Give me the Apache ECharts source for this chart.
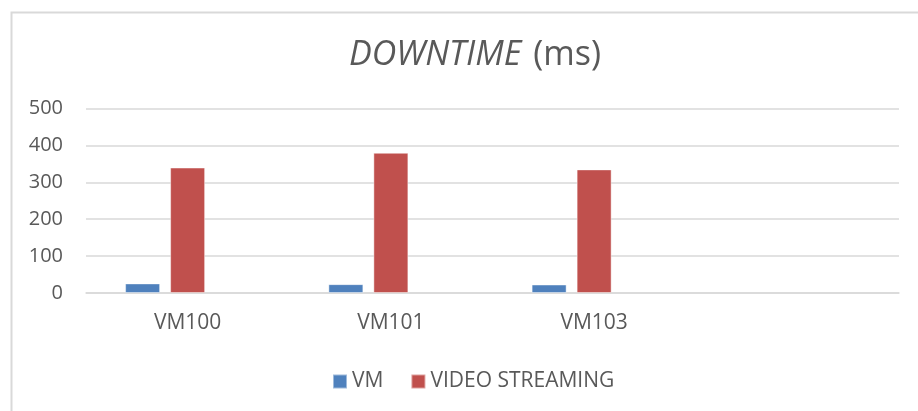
<!DOCTYPE html>
<html>
<head>
<meta charset="utf-8">
<script src="https://cdn.jsdelivr.net/npm/echarts@6/dist/echarts.min.js"></script>
<style>
html,body{margin:0;padding:0;background:#fff;}
#c{width:918px;height:411px;}
</style>
</head>
<body>
<div id="c"></div>
<script>
const categories = ['VM100', 'VM101', 'VM103', ''];
const vmValues = [26, 24, 23, null];
const videoValues = [340, 380, 335, null];
const emptySeries = [null, null, null, null];
const yTicks = [0, 100, 200, 300, 400, 500];

const chart = echarts.init(document.getElementById('c'), null, {renderer: 'canvas'});
const font = '"Open Sans", "Noto Sans", sans-serif';
const txt = '#595959';
chart.setOption({
  animation: false,
  backgroundColor: '#fff',
  graphic: [{
    type: 'rect', left: 9, top: 10,
    shape: {width: 940, height: 430},
    style: {fill: 'none', stroke: '#d9d9d9', lineWidth: 2}
  }],
  title: {
    text: '{i|DOWNTIME}{s| }{n|(ms)}',
    left: 470, textAlign: 'center', top: 33,
    textStyle: {
      fontWeight: 'normal',
      rich: {
        i: {fontFamily: font, fontSize: 34, fontStyle: 'italic', fontWeight: 'normal', color: txt},
        s: {fontFamily: font, fontSize: 34, fontWeight: 'normal', color: txt, width: 12},
        n: {fontFamily: font, fontSize: 34, fontWeight: 'normal', color: txt}
      }
    }
  },
  legend: {
    left: 327, top: 366,
    itemWidth: 14, itemHeight: 14, itemGap: 27,
    icon: 'rect',
    data: ['VM', 'VIDEO STREAMING'],
    textStyle: {fontFamily: font, fontSize: 21, color: txt}
  },
  grid: {left: 86, right: 19, top: 108.5, bottom: 118},
  xAxis: {
    type: 'category', data: categories,
    axisLine: {lineStyle: {color: '#d9d9d9', width: 1.5}},
    axisTick: {show: false},
    axisLabel: {fontFamily: font, fontSize: 21, color: txt, margin: 20}
  },
  yAxis: {
    type: 'value', min: 0, max: 500, interval: 100,
    axisLine: {show: false}, axisTick: {show: false},
    axisLabel: {fontFamily: font, fontSize: 20, color: txt, margin: 23,
      formatter: v => yTicks.includes(v) ? String(v) : ''},
    splitLine: {lineStyle: {color: '#d9d9d9', width: 1.5}}
  },
  series: [
    {name: 'VM', type: 'bar', data: vmValues, barWidth: 35, barGap: '28.6%',
     itemStyle: {color: '#4F81BD', borderColor: 'rgba(255,255,255,0.45)', borderWidth: 1}},
    {name: 'VIDEO STREAMING', type: 'bar', data: videoValues, barWidth: 35, barGap: '28.6%',
     itemStyle: {color: '#C0504D', borderColor: 'rgba(255,255,255,0.45)', borderWidth: 1}},
    {name: 'empty', type: 'bar', data: emptySeries, barWidth: 35, barGap: '28.6%',
     itemStyle: {color: '#9BBB59'}}
  ]
});
</script>
</body>
</html>
